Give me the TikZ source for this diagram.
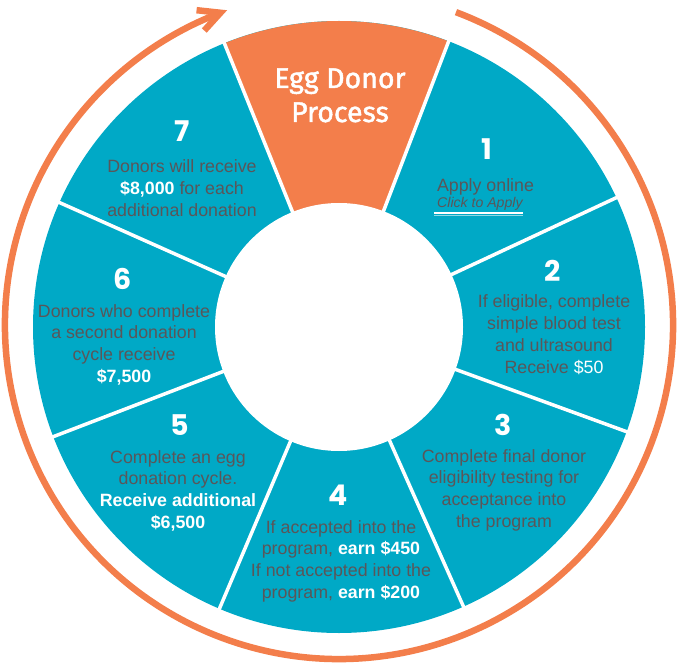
\documentclass[tikz,border=0pt]{standalone}
\usepackage{fontspec}
\setmainfont{Liberation Sans}
\newfontfamily\numfont{Poppins}
\newfontfamily\titlefont{Fira Sans}[FakeBold=1.6]
\usetikzlibrary{calc}
\definecolor{wcyan}{HTML}{00A9C6}
\definecolor{worange}{HTML}{F37E4B}
\definecolor{tgray}{HTML}{5A5659}
\newcommand{\wb}[1]{\textcolor{white}{\bfseries #1}}
\newcommand{\lines}[1]{\begin{tabular}[t]{@{}c@{}}#1\end{tabular}}
\begin{document}
\begin{tikzpicture}[x=1pt,y=1pt,
  numlabel/.style={text=white, font=\numfont\bfseries\fontsize{28.5}{30}\selectfont, anchor=base, inner sep=0pt},
  body/.style={text=tgray, font=\fontsize{17.8}{21.7}\selectfont, anchor=base, inner sep=0pt},
  titletext/.style={text=white, font=\titlefont\fontsize{28.5}{34}\selectfont, anchor=base, inner sep=0pt},
  sepline/.style={white, line width=3.5pt},
  ring/.style={worange, line width=6.5pt}]
\useasboundingbox (0,0) rectangle (680,665);
% wheel
\coordinate (c) at (339,338);
\fill[wcyan] (c) circle[radius=306];
\fill[worange] (c) -- ++(69:306) arc[start angle=69, end angle=112, radius=306] -- cycle;
\foreach \a in {69,25,-20,-66,-113,-159,156,112}
  \draw[sepline] ($(c)+(\a:110)$) -- ($(c)+(\a:312)$);
\fill[white] (c) circle[radius=124];
% ring with arrow
\coordinate (rc) at (339,340);
\draw[ring] ($(rc)+(69.5:334)$) arc[start angle=69.5, end angle=-249.2, radius=334] coordinate (tip);
\draw[ring, line join=miter] ($(tip)+(173.8:24)$) -- (tip) -- ($(tip)+(227.8:24)$);
% title
\node[titletext] (title) at (340,577) {\lines{Egg Donor\\ Process}};
% numbers
\node[numlabel] (n1) at (487,505) {1};
\node[numlabel] (n2) at (553,383) {2};
\node[numlabel] (n3) at (503,230) {3};
\node[numlabel] (n4) at (338,160) {4};
\node[numlabel] (n5) at (180,230) {5};
\node[numlabel] (n6) at (123,375) {6};
\node[numlabel] (n7) at (182,523) {7};
% texts
\node[body] (t1) at (485.5,473) {Apply online};
\node[text=tgray, font=\itshape\fontsize{14.1}{16}\selectfont, anchor=base west, inner sep=0pt] (click) at (437,457) {Click to Apply};
\draw[white, line width=1.4pt] ([xshift=-3pt,yshift=-5pt]click.base west) -- ([yshift=-5pt]click.base east);
\draw[white!55!wcyan, line width=1.3pt] ([xshift=-3pt,yshift=-7.5pt]click.base west) -- ([yshift=-7.5pt]click.base east);
\node[body] (t2) at (554,357) {\lines{If eligible, complete\\ simple blood test\\ and ultrasound\\ Receive \textcolor{white}{\$50}}};
\node[body] (t3) at (504,203) {\lines{Complete final donor\\ eligibility testing for\\ acceptance into\\ the program}};
\node[body] (t4) at (341,132) {\lines{If accepted into the\\ program, \wb{earn \$450}\\ If not accepted into the\\ program, \wb{earn \$200}}};
\node[body] (t5) at (178,202) {\lines{Complete an egg\\ donation cycle.\\ \wb{Receive additional}\\ \wb{\$6,500}}};
\node[body] (t6) at (124,348) {\lines{Donors who complete\\ a second donation\\ cycle receive\\ \wb{\$7,500}}};
\node[body] (t7) at (182,492) {\lines{Donors will receive\\ \wb{\$8,000} for each\\ additional donation}};
\end{tikzpicture}
\end{document}
